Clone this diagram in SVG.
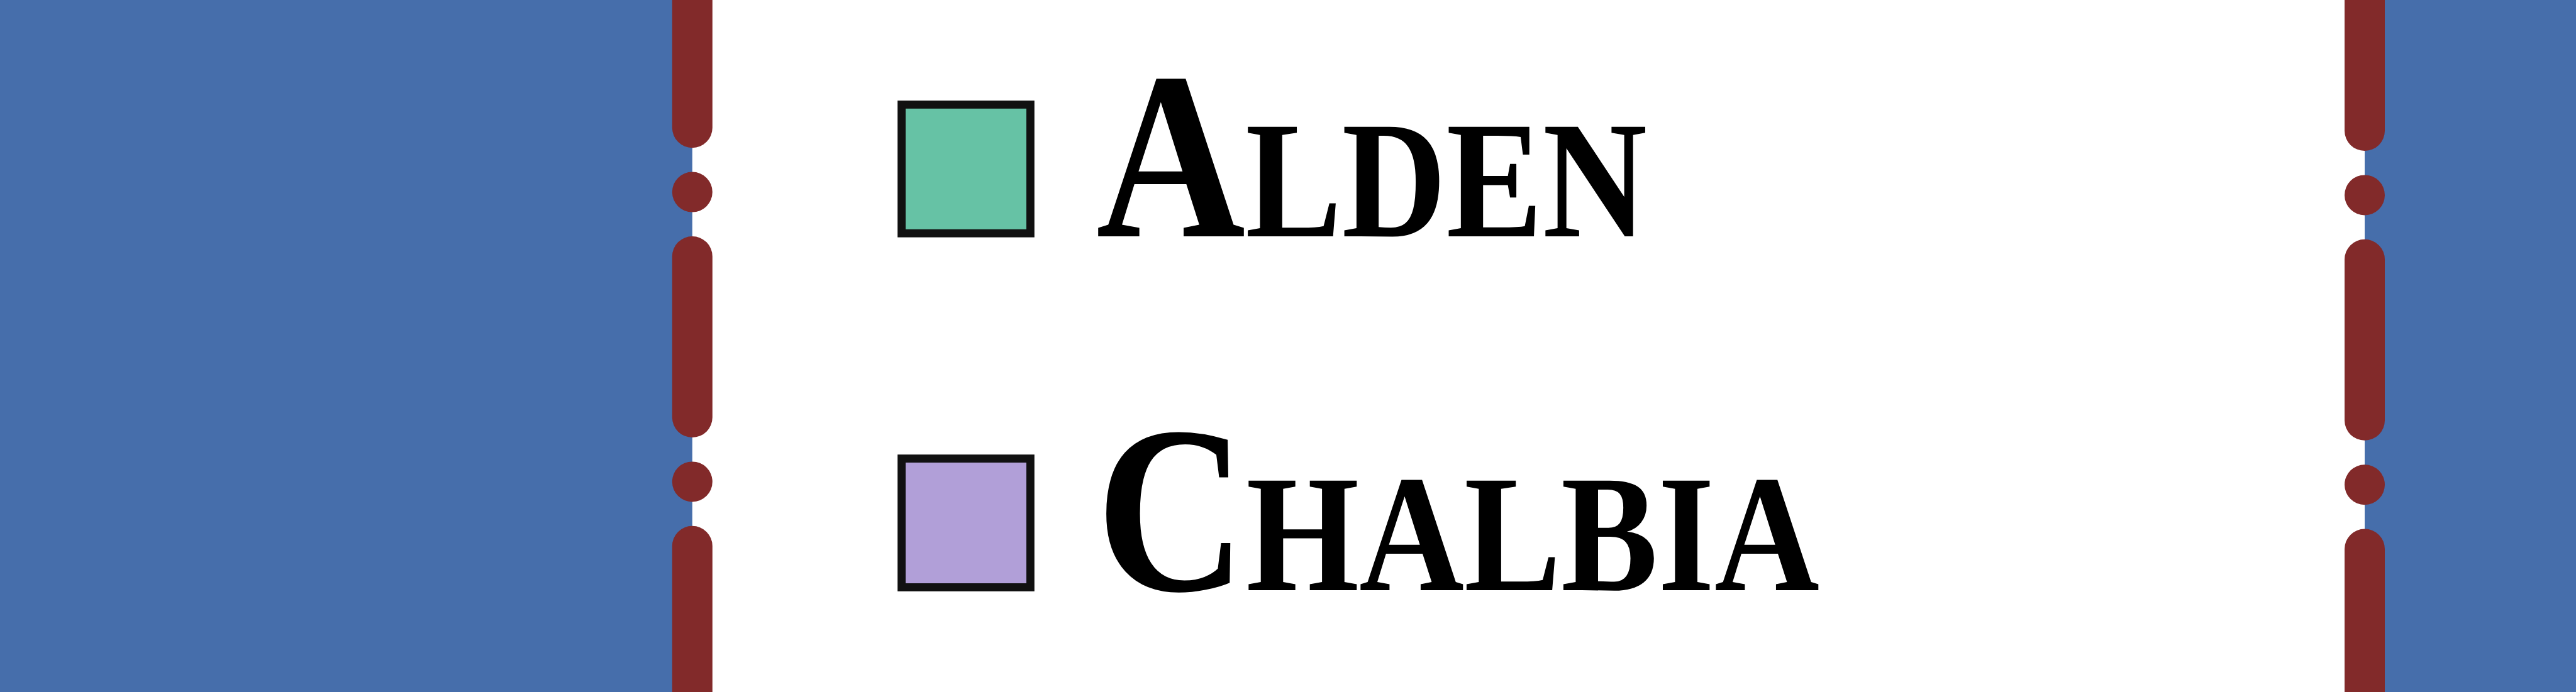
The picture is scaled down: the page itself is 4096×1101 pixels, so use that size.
<svg xmlns="http://www.w3.org/2000/svg" width="4096" height="1101" viewBox="0 0 4096 1101">
  <style>
    .region { fill: #466eab; }
    .border { fill: none; stroke: #822a2a; stroke-width: 64; stroke-linecap: round; stroke-dasharray: 256 102.4 0 102.4; }
    .swatch { stroke: #111111; stroke-width: 12.8; }
    .label { font-family: "Liberation Serif", "DejaVu Serif", serif; font-size: 380px; font-weight: bold; font-variant: small-caps; fill: #000000; }
  </style>
  <rect x="0" y="0" width="4096" height="1101" fill="#ffffff"/>
  <g id="region-left">
    <rect class="region" x="0" y="0" width="1100.8" height="1101"/>
  </g>
  <g id="region-right">
    <rect class="region" x="3760" y="0" width="336" height="1101"/>
  </g>
  <g id="borders">
    <path class="border" d="M1100.8 0 V1101" stroke-dashoffset="52.8"/>
    <path class="border" d="M3760 0 V1101" stroke-dashoffset="48"/>
  </g>
  <g id="legend-alden">
    <rect class="swatch" x="1433.6" y="166.4" width="204.8" height="204.8" fill="#66c2a5"/>
    <text class="label" x="1743" y="376" textLength="876" lengthAdjust="spacingAndGlyphs">Alden</text>
  </g>
  <g id="legend-chalbia">
    <rect class="swatch" x="1433.6" y="729.6" width="204.8" height="204.8" fill="#b19fd8"/>
    <text class="label" x="1743" y="939" textLength="1150" lengthAdjust="spacingAndGlyphs">Chalbia</text>
  </g>
</svg>
